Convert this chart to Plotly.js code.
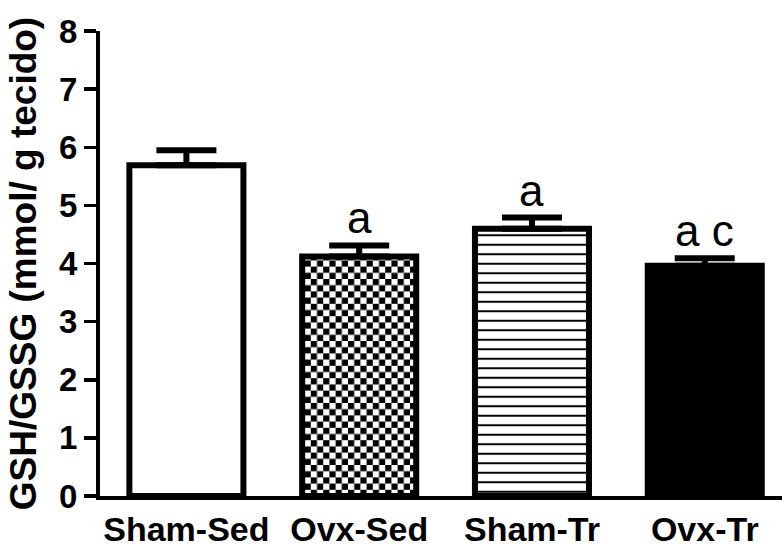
<!DOCTYPE html>
<html>
<head>
<meta charset="utf-8">
<script src="https://cdn.plot.ly/plotly-3.0.1.min.js"></script>
<style>html,body{margin:0;padding:0;background:#fff;}#chart{width:782px;height:547px;}</style>
</head>
<body>
<div id="chart"></div>
<script>
// ---- data ----
var categories = ["Sham-Sed", "Ovx-Sed", "Sham-Tr", "Ovx-Tr"];
var means = [5.69, 4.12, 4.60, 3.96];
var sems = [0.26, 0.19, 0.19, 0.13];
var letters = ["", "a", "a", "a c"];
var fills = ["white", "checker", "hlines", "black"];
var yTitle = "GSH/GSSG (mmol/ g tecido)";

var FONT = "Liberation Sans, Arial, Helvetica, sans-serif";

var shapes = fills.map(function (f) { return f === "hlines" ? "-" : ""; });
var colors = fills.map(function (f) { return (f === "black" || f === "hlines") ? "black" : "white"; });

var trace = {
  type: "bar",
  x: categories,
  y: means,
  width: 0.66,
  marker: {
    color: colors,
    line: { color: "black", width: 6 },
    pattern: {
      shape: shapes,
      fillmode: "replace",
      size: 9.5,
      solidity: 0.21
    }
  },
  error_y: {
    type: "data",
    symmetric: false,
    array: sems,
    arrayminus: sems.map(function () { return 0; }),
    color: "black",
    thickness: 6,
    width: 30
  },
  hoverinfo: "skip",
  showlegend: false
};

var annotations = categories.map(function (c, i) {
  return {
    x: c,
    y: means[i] + sems[i],
    xref: "x",
    yref: "y",
    text: letters[i],
    showarrow: false,
    yanchor: "bottom",
    yshift: 1,
    font: { family: FONT, size: 44, color: "black" }
  };
}).filter(function (a) { return a.text !== ""; });

var layout = {
  width: 782,
  height: 547,
  margin: { l: 100, r: 0, t: 31, b: 51, pad: 0 },
  paper_bgcolor: "white",
  plot_bgcolor: "white",
  xaxis: {
    type: "category",
    range: [-0.5, 3.447],
    showline: true,
    linecolor: "black",
    linewidth: 4,
    ticks: "",
    showgrid: false,
    zeroline: false,
    tickfont: { family: FONT, size: 34, color: "black", weight: 700 },
    fixedrange: true
  },
  yaxis: {
    range: [0, 8],
    tick0: 0,
    dtick: 1,
    ticks: "outside",
    ticklen: 12,
    tickwidth: 3.5,
    tickcolor: "black",
    showline: true,
    linecolor: "black",
    linewidth: 4,
    showgrid: false,
    zeroline: false,
    tickfont: { family: FONT, size: 33, color: "black", weight: 700 },
    title: { text: yTitle, font: { family: FONT, size: 37, color: "black", weight: 700 }, standoff: 12 },
    fixedrange: true
  },
  annotations: annotations,
  font: { family: FONT, color: "black" }
};

var gd = document.getElementById("chart");
Plotly.newPlot(gd, [trace], layout, { staticPlot: true, displayModeBar: false }).then(function () {
  var ns = "http://www.w3.org/2000/svg";
  var svg = gd.querySelector("svg.main-svg");
  var defs = svg.querySelector("defs");
  var cell = 6.2;
  var pat = document.createElementNS(ns, "pattern");
  pat.setAttribute("id", "checkerfill");
  pat.setAttribute("patternUnits", "userSpaceOnUse");
  pat.setAttribute("width", 2 * cell);
  pat.setAttribute("height", 2 * cell);
  var r0 = document.createElementNS(ns, "rect");
  r0.setAttribute("x", 0); r0.setAttribute("y", 0);
  r0.setAttribute("width", 2 * cell); r0.setAttribute("height", 2 * cell);
  r0.setAttribute("fill", "white");
  pat.appendChild(r0);
  [[0, 0], [cell, cell]].forEach(function (p) {
    var r = document.createElementNS(ns, "rect");
    r.setAttribute("x", p[0]); r.setAttribute("y", p[1]);
    r.setAttribute("width", cell); r.setAttribute("height", cell);
    r.setAttribute("fill", "black");
    pat.appendChild(r);
  });
  defs.appendChild(pat);
  var paths = gd.querySelectorAll(".barlayer .trace .point path");
  fills.forEach(function (f, i) {
    if (f === "checker" && paths[i]) {
      paths[i].style.fill = "url(#checkerfill)";
    }
  });
});
</script>
</body>
</html>
